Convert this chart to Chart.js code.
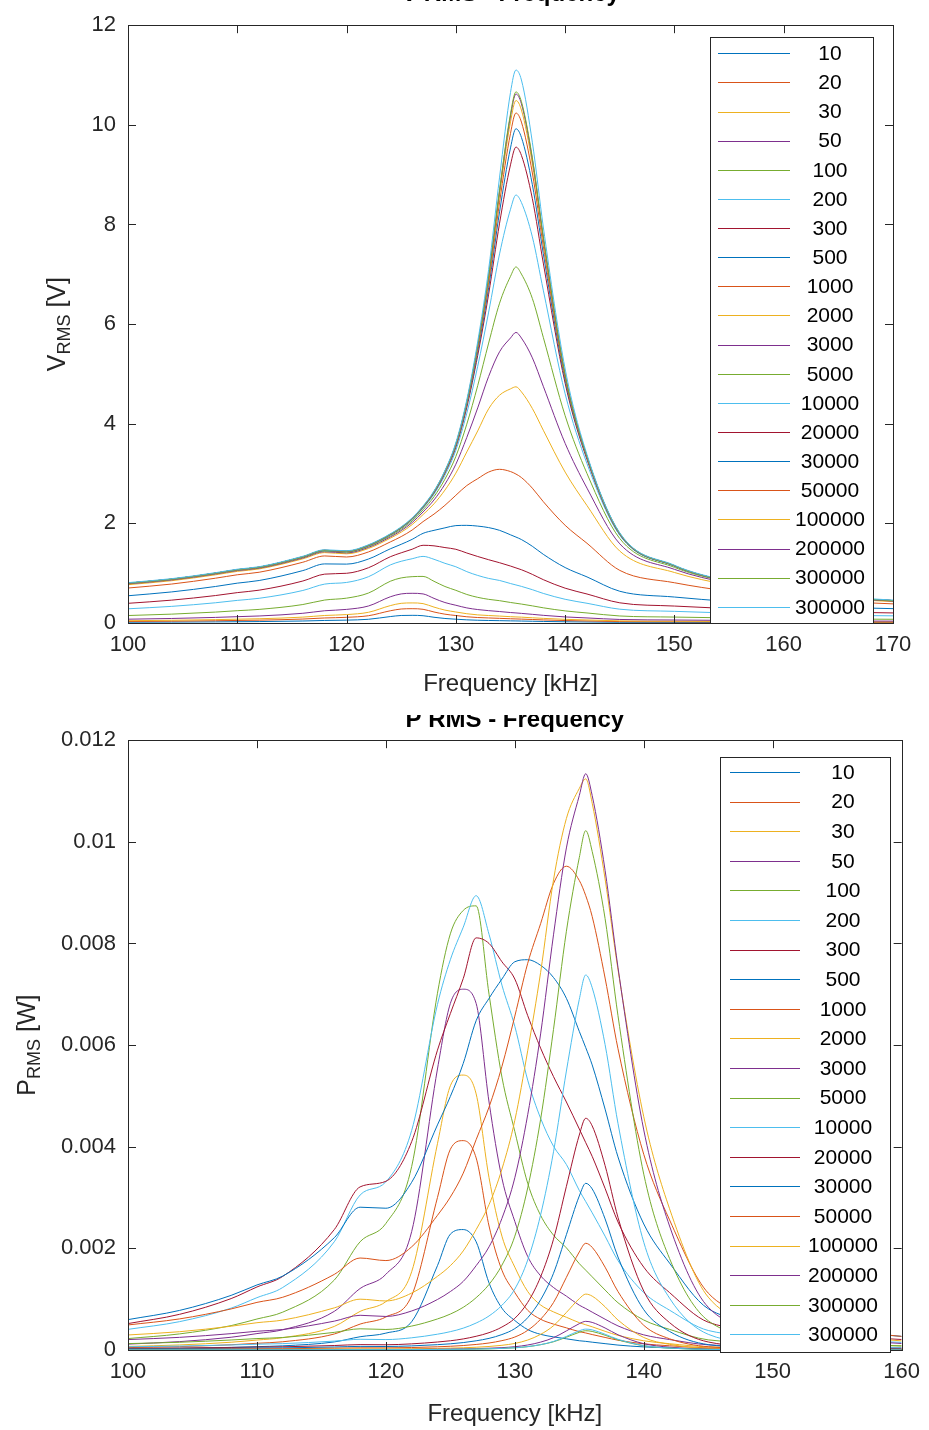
<!DOCTYPE html>
<html><head><meta charset="utf-8">
<script src="https://cdn.jsdelivr.net/npm/chart.js@4.4.0/dist/chart.umd.min.js"></script>
<style>
html,body{margin:0;padding:0;background:#fff;}
#wrap{position:relative;width:929px;height:1430px;overflow:hidden;background:#fff;}
#c1{position:absolute;left:0;top:0;}
#c2{position:absolute;left:0;top:715px;}
</style></head><body>
<div id="wrap"><canvas id="c2" width="929" height="715"></canvas><canvas id="c1" width="929" height="715"></canvas></div>
<script>
// ---------- data ----------
const freqV = [100,104,108,110,112,116,118,120,122,124,125,126,127,128,129,130,131,132,133,134,135,135.5,136,137,138,140,142,145,150,155,160,165,170];
const freqP = [100,104,108,110,112,116,118,120,122,124,125,126,127,128,129,130,131,132,133,134,135,135.5,136,137,138,140,142,145,150,155,160];
const loadLabels = ['10','20','30','50','100','200','300','500','1000','2000','3000','5000','10000','20000','30000','50000','100000','200000','300000','300000'];

const xTicksV = [100,110,120,130,140,150,160,170];
const xTickLabelsV = ['100','110','120','130','140','150','160','170'];
const yTicksV = [0,2,4,6,8,10,12];
const yTickLabelsV = ['0','2','4','6','8','10','12'];
const xTicksP = [100,110,120,130,140,150,160];
const xTickLabelsP = ['100','110','120','130','140','150','160'];
const yTicksP = [0,0.002,0.004,0.006,0.008,0.01,0.012];
const yTickLabelsP = ['0','0.002','0.004','0.006','0.008','0.01','0.012'];

// V_RMS [V]
const v10 = [0.0154,0.0183,0.0227,0.0257,0.0286,0.0399,0.0511,0.0576,0.0746,0.129,0.151,0.154,0.146,0.115,0.0907,0.0762,0.0634,0.0555,0.0508,0.0469,0.0427,0.0412,0.0392,0.0353,0.0311,0.0247,0.0204,0.0143,0.0121,0.0104,0.0091,0.0081,0.0076];
const v20 = [0.0307,0.0366,0.0453,0.0513,0.057,0.0794,0.101,0.114,0.146,0.245,0.281,0.287,0.275,0.221,0.177,0.150,0.125,0.110,0.101,0.0934,0.085,0.0818,0.078,0.0703,0.0621,0.0492,0.0408,0.0285,0.0241,0.0207,0.0183,0.0162,0.0152];
const v30 = [0.046,0.0547,0.0677,0.0767,0.0852,0.118,0.151,0.169,0.215,0.349,0.395,0.403,0.389,0.319,0.259,0.221,0.186,0.163,0.150,0.139,0.127,0.122,0.117,0.105,0.0929,0.0737,0.0611,0.0427,0.0362,0.031,0.0274,0.0243,0.0228];
const v50 = [0.0763,0.0908,0.112,0.127,0.141,0.195,0.246,0.273,0.341,0.526,0.584,0.596,0.584,0.494,0.411,0.356,0.303,0.270,0.248,0.230,0.210,0.202,0.193,0.174,0.154,0.122,0.1016,0.071,0.0601,0.0516,0.0455,0.0404,0.0379];
const v100 = [0.150,0.178,0.219,0.247,0.273,0.371,0.461,0.499,0.601,0.838,0.905,0.930,0.935,0.837,0.733,0.656,0.573,0.515,0.475,0.448,0.412,0.396,0.380,0.344,0.305,0.243,0.2016,0.141,0.119,0.102,0.0901,0.080,0.0749];
const v200 = [0.285,0.334,0.406,0.454,0.496,0.653,0.781,0.814,0.929,1.166,1.239,1.290,1.337,1.279,1.198,1.129,1.031,0.955,0.895,0.854,0.792,0.764,0.735,0.669,0.594,0.476,0.396,0.277,0.234,0.199,0.174,0.154,0.144];
const v300 = [0.395,0.459,0.551,0.610,0.659,0.843,0.981,0.998,1.109,1.330,1.409,1.481,1.560,1.549,1.514,1.480,1.405,1.335,1.270,1.210,1.143,1.106,1.069,0.976,0.870,0.699,0.582,0.405,0.340,0.288,0.249,0.219,0.202];
const v500 = [0.547,0.624,0.733,0.800,0.853,1.052,1.186,1.182,1.284,1.489,1.580,1.679,1.800,1.860,1.910,1.955,1.960,1.945,1.915,1.860,1.770,1.725,1.675,1.540,1.379,1.113,0.925,0.637,0.521,0.432,0.367,0.317,0.288];
const v1000 = [0.702,0.782,0.899,0.968,1.019,1.220,1.346,1.325,1.426,1.627,1.735,1.866,2.035,2.186,2.362,2.564,2.759,2.897,3.030,3.085,3.040,2.990,2.920,2.706,2.436,1.961,1.600,1.056,0.808,0.636,0.517,0.434,0.384];
const v2000 = [0.769,0.849,0.967,1.036,1.085,1.288,1.413,1.389,1.496,1.702,1.824,1.976,2.177,2.393,2.668,3.008,3.433,3.856,4.300,4.573,4.700,4.741,4.640,4.306,3.870,3.029,2.357,1.443,1.014,0.761,0.599,0.493,0.429];
const v3000 = [0.785,0.864,0.983,1.052,1.100,1.305,1.431,1.407,1.518,1.727,1.855,2.016,2.229,2.470,2.786,3.187,3.725,4.318,4.950,5.445,5.721,5.833,5.720,5.323,4.752,3.606,2.707,1.589,1.077,0.795,0.619,0.507,0.440];
const v5000 = [0.794,0.873,0.992,1.061,1.110,1.317,1.444,1.421,1.535,1.748,1.880,2.049,2.272,2.536,2.887,3.343,3.991,4.765,5.619,6.420,6.959,7.147,7.004,6.514,5.735,4.161,3.000,1.695,1.117,0.815,0.631,0.515,0.446];
const v10000 = [0.798,0.878,0.998,1.067,1.117,1.324,1.452,1.431,1.548,1.764,1.900,2.074,2.305,2.587,2.966,3.468,4.211,5.154,6.241,7.410,8.306,8.591,8.441,7.751,6.682,4.601,3.199,1.758,1.138,0.825,0.637,0.518,0.449];
const v20000 = [0.800,0.880,1.000,1.070,1.120,1.327,1.456,1.436,1.554,1.772,1.910,2.087,2.323,2.613,3.008,3.533,4.328,5.370,6.601,8.026,9.197,9.553,9.387,8.518,7.225,4.811,3.282,1.779,1.145,0.828,0.639,0.520,0.450];
const v30000 = [0.800,0.880,1.000,1.070,1.120,1.330,1.457,1.437,1.556,1.775,1.913,2.091,2.328,2.622,3.022,3.555,4.368,5.445,6.730,8.254,9.537,9.921,9.748,8.799,7.414,4.877,3.307,1.786,1.147,0.830,0.640,0.520,0.450];
const v50000 = [0.800,0.880,1.000,1.070,1.120,1.330,1.460,1.440,1.558,1.777,1.916,2.095,2.333,2.629,3.033,3.573,4.401,5.506,6.835,8.446,9.828,10.237,10.055,9.033,7.567,4.928,3.326,1.793,1.150,0.830,0.640,0.520,0.450];
const v100000 = [0.800,0.880,1.000,1.070,1.120,1.330,1.460,1.440,1.560,1.780,1.920,2.097,2.336,2.635,3.041,3.586,4.425,5.553,6.917,8.595,10.059,10.488,10.297,9.214,7.683,4.964,3.338,1.797,1.150,0.830,0.640,0.520,0.450];
const v200000 = [0.800,0.880,1.000,1.070,1.120,1.330,1.460,1.440,1.560,1.780,1.920,2.100,2.339,2.637,3.046,3.593,4.438,5.576,6.958,8.672,10.178,10.618,10.422,9.306,7.742,4.982,3.344,1.798,1.150,0.830,0.640,0.520,0.450];
const v300000a = [0.800,0.880,1.000,1.070,1.120,1.330,1.460,1.440,1.560,1.780,1.920,2.100,2.340,2.638,3.047,3.595,4.442,5.584,6.972,8.698,10.219,10.661,10.465,9.338,7.761,4.988,3.346,1.798,1.150,0.830,0.640,0.520,0.450];
const v300000b = [0.810,0.890,1.010,1.080,1.130,1.340,1.470,1.450,1.570,1.790,1.930,2.110,2.350,2.650,3.060,3.620,4.480,5.650,7.100,8.950,10.650,11.100,10.900,9.650,7.950,5.100,3.380,1.810,1.160,0.840,0.650,0.530,0.460];

// P_RMS [W]
const p10 = [0.0000237,0.0000335,0.0000515,0.000066,0.0000818,0.000159,0.000261,0.000332,0.000557,0.00166,0.00228,0.00237,0.00213,0.00132,0.000823,0.00058,0.000402,0.000308,0.000258,0.00022,0.000182,0.00017,0.000154,0.000125,0.0000967,0.000061,0.0000416,0.0000204,0.0000146,0.0000108,0.0000083];
const p20 = [0.0000471,0.000067,0.000103,0.000132,0.000162,0.000315,0.00051,0.00065,0.00107,0.0030,0.00395,0.00412,0.00378,0.00244,0.00157,0.00113,0.000781,0.000605,0.00051,0.000436,0.000361,0.000335,0.000304,0.000247,0.000193,0.000121,0.0000832,0.0000406,0.000029,0.0000214,0.0000167];
const p30 = [0.0000705,0.0000997,0.000153,0.000196,0.000242,0.000464,0.00076,0.000952,0.00154,0.00406,0.0052,0.00541,0.00504,0.00339,0.00224,0.00163,0.00115,0.000886,0.00075,0.000644,0.000538,0.000496,0.000456,0.000368,0.000288,0.000181,0.000124,0.0000608,0.0000437,0.000032,0.000025];
const p50 = [0.000116,0.000165,0.000251,0.000323,0.000398,0.000761,0.00121,0.00149,0.00233,0.00553,0.00682,0.0071,0.00682,0.00488,0.00338,0.00253,0.00184,0.00146,0.00123,0.00106,0.000882,0.000816,0.000745,0.000606,0.000474,0.000298,0.000206,0.000101,0.0000722,0.0000533,0.0000414];
const p100 = [0.000225,0.000317,0.00048,0.00061,0.000745,0.001376,0.00213,0.00249,0.00361,0.00702,0.00819,0.00865,0.00874,0.0070,0.00537,0.0043,0.00328,0.00265,0.00226,0.00201,0.0017,0.00157,0.00144,0.00118,0.00093,0.00059,0.000406,0.000199,0.000142,0.000104,0.0000812];
const p200 = [0.000406,0.000558,0.000824,0.00103,0.00123,0.00213,0.00305,0.00331,0.00432,0.0068,0.00768,0.00832,0.00894,0.00818,0.00718,0.00637,0.00531,0.00456,0.00401,0.00365,0.00314,0.00292,0.0027,0.00224,0.00176,0.00113,0.000784,0.000384,0.000274,0.000198,0.000151];
const p300 = [0.00052,0.000702,0.001012,0.00124,0.001448,0.00237,0.00321,0.00332,0.0041,0.0059,0.00662,0.00731,0.00811,0.0080,0.00764,0.0073,0.00658,0.00594,0.00538,0.00488,0.00435,0.00408,0.00381,0.00318,0.00252,0.00163,0.00113,0.000547,0.000385,0.000276,0.000207];
const p500 = [0.000598,0.000779,0.001075,0.00128,0.001455,0.00221,0.00281,0.00279,0.0033,0.00443,0.00499,0.00564,0.00648,0.00692,0.0073,0.00764,0.00768,0.00757,0.00733,0.00692,0.00627,0.00595,0.00561,0.00474,0.0038,0.00248,0.00171,0.000812,0.000543,0.000373,0.000269];
const p1000 = [0.000493,0.000612,0.000808,0.000937,0.001038,0.001488,0.00181,0.00176,0.00203,0.00265,0.00301,0.00348,0.00414,0.00478,0.00558,0.00657,0.00761,0.00839,0.00918,0.00952,0.00924,0.00894,0.00853,0.00732,0.00593,0.00385,0.00256,0.00112,0.000653,0.000404,0.000267];
const p2000 = [0.000296,0.00036,0.000468,0.000537,0.000589,0.000829,0.001,0.000965,0.00112,0.00145,0.00166,0.00195,0.00237,0.00286,0.00356,0.00452,0.00589,0.00743,0.00925,0.01046,0.01105,0.01124,0.01076,0.00927,0.00749,0.00459,0.00278,0.00104,0.000514,0.00029,0.000179];
const p3000 = [0.000205,0.000249,0.000322,0.000369,0.000403,0.000568,0.000683,0.00066,0.000768,0.000994,0.00115,0.00135,0.00166,0.00203,0.00259,0.00339,0.00463,0.00622,0.00817,0.00988,0.01091,0.01134,0.01091,0.00944,0.00753,0.00433,0.00244,0.000842,0.000387,0.000211,0.000128];
const p5000 = [0.000126,0.000152,0.000197,0.000225,0.000246,0.000347,0.000417,0.000404,0.000471,0.000611,0.000707,0.00084,0.00103,0.00129,0.00167,0.00224,0.00319,0.00454,0.00631,0.00824,0.00969,0.01022,0.00981,0.00849,0.00658,0.00346,0.0018,0.000575,0.00025,0.000133,0.0000796];
const p10000 = [0.0000637,0.0000771,0.0000996,0.000114,0.000125,0.000175,0.000211,0.000205,0.00024,0.000311,0.000361,0.00043,0.000531,0.00067,0.00088,0.0012,0.00177,0.00266,0.0039,0.00549,0.0069,0.00738,0.00713,0.00601,0.00446,0.00212,0.00102,0.000309,0.00013,0.0000681,0.0000406];
const p20000 = [0.000032,0.0000387,0.00005,0.0000572,0.0000627,0.000088,0.000106,0.000103,0.000121,0.000157,0.000182,0.000218,0.00027,0.000341,0.000452,0.000624,0.000937,0.00144,0.00218,0.00322,0.00423,0.00456,0.00441,0.00363,0.00261,0.00116,0.000539,0.000158,0.0000655,0.0000343,0.0000204];
const p30000 = [0.0000213,0.0000258,0.0000333,0.0000382,0.0000418,0.000059,0.0000708,0.0000688,0.0000807,0.000105,0.000122,0.000146,0.000181,0.000229,0.000304,0.000421,0.000636,0.000988,0.00151,0.00227,0.00303,0.00328,0.00317,0.00258,0.00183,0.000793,0.000365,0.000106,0.0000439,0.000023,0.0000137];
const p50000 = [0.0000128,0.0000155,0.00002,0.0000229,0.0000251,0.0000354,0.0000426,0.0000415,0.0000485,0.0000632,0.0000734,0.0000878,0.000109,0.000138,0.000184,0.000255,0.000387,0.000606,0.000934,0.00143,0.00193,0.0021,0.00202,0.00163,0.00115,0.000486,0.000221,0.0000643,0.0000265,0.0000138,0.0000082];
const p100000 = [0.0000064,0.0000077,0.00001,0.0000114,0.0000125,0.0000177,0.0000213,0.0000207,0.0000243,0.0000317,0.0000369,0.000044,0.0000546,0.0000694,0.0000925,0.000129,0.000196,0.000308,0.000478,0.000739,0.00101,0.0011,0.00106,0.00085,0.00059,0.000246,0.000111,0.0000323,0.0000132,0.0000069,0.0000041];
const p200000 = [0.0000032,0.0000039,0.000005,0.0000057,0.0000063,0.0000088,0.0000107,0.0000104,0.0000122,0.0000158,0.0000184,0.000022,0.0000274,0.0000348,0.0000464,0.0000646,0.0000985,0.000155,0.000242,0.000376,0.000518,0.000564,0.000543,0.000433,0.0003,0.000124,0.0000559,0.0000162,0.0000066,0.0000034,0.000002];
const p300000a = [0.0000021,0.0000026,0.0000033,0.0000038,0.0000042,0.0000059,0.0000071,0.0000069,0.0000081,0.0000106,0.0000123,0.0000147,0.0000183,0.0000232,0.0000309,0.0000431,0.0000658,0.000104,0.000162,0.000252,0.000348,0.000379,0.000365,0.000291,0.000201,0.0000829,0.0000373,0.0000108,0.0000044,0.0000023,0.0000014];
const p300000b = [0.0000022,0.0000026,0.0000034,0.0000039,0.0000043,0.000006,0.0000072,0.000007,0.0000082,0.0000107,0.0000124,0.0000148,0.0000184,0.0000234,0.0000312,0.0000437,0.0000669,0.000106,0.000168,0.000267,0.000378,0.000411,0.000396,0.00031,0.000211,0.0000867,0.0000381,0.0000109,0.0000045,0.0000024,0.0000014];

const seriesV = [v10,v20,v30,v50,v100,v200,v300,v500,v1000,v2000,v3000,v5000,v10000,v20000,v30000,v50000,v100000,v200000,v300000a,v300000b];
const seriesP = [p10,p20,p30,p50,p100,p200,p300,p500,p1000,p2000,p3000,p5000,p10000,p20000,p30000,p50000,p100000,p200000,p300000a,p300000b];

// ---------- styling ----------
const colors = ['#0072BD','#D95319','#EDB120','#7E2F8E','#77AC30','#4DBEEE','#A2142F'];
const FONT = "'Liberation Sans', Arial, Helvetica, sans-serif";
const AX = '#262626';

function drawRich(ctx, parts, cx, cy, rotate) {
  ctx.save();
  ctx.translate(cx, cy);
  if (rotate) ctx.rotate(-Math.PI / 2);
  let total = 0;
  parts.forEach(p => { ctx.font = (p.bold ? 'bold ' : '') + p.size + 'px ' + FONT; p.w = ctx.measureText(p.t).width; total += p.w; });
  let x = -total / 2;
  ctx.textBaseline = 'alphabetic';
  ctx.textAlign = 'left';
  parts.forEach(p => { ctx.font = (p.bold ? 'bold ' : '') + p.size + 'px ' + FONT; ctx.fillStyle = p.color || AX; ctx.fillText(p.t, x, p.dy); x += p.w; });
  ctx.restore();
}

const matlabPlugin = {
  id: 'matlab',
  afterDraw(chart) {
    const o = chart.options.plugins.matlab;
    const ctx = chart.ctx, a = chart.chartArea, xs = chart.scales.x, ys = chart.scales.y;
    ctx.save();
    ctx.strokeStyle = AX; ctx.lineWidth = 1;
    const tl = 8;
    ctx.beginPath();
    xs.ticks.forEach(t => {
      const px = Math.round(xs.getPixelForValue(t.value)) + 0.5;
      ctx.moveTo(px, a.bottom); ctx.lineTo(px, a.bottom - tl);
      ctx.moveTo(px, a.top); ctx.lineTo(px, a.top + tl);
    });
    ys.ticks.forEach(t => {
      const py = Math.round(ys.getPixelForValue(t.value)) + 0.5;
      ctx.moveTo(a.left, py); ctx.lineTo(a.left + tl, py);
      ctx.moveTo(a.right, py); ctx.lineTo(a.right - tl, py);
    });
    ctx.stroke();
    ctx.strokeRect(Math.round(a.left) + 0.5, Math.round(a.top) + 0.5, Math.round(a.right - a.left), Math.round(a.bottom - a.top));

    // legend
    const L = o.legend;
    ctx.fillStyle = '#fff';
    ctx.fillRect(L.x0, L.y0, L.x1 - L.x0, L.y1 - L.y0);
    ctx.strokeRect(L.x0 + 0.5, L.y0 + 0.5, L.x1 - L.x0, L.y1 - L.y0);
    ctx.font = L.size + 'px ' + FONT;
    ctx.textAlign = 'center'; ctx.textBaseline = 'middle';
    chart.data.datasets.forEach((ds, i) => {
      const yy = L.row0 + i * L.step;
      ctx.strokeStyle = ds.borderColor; ctx.lineWidth = 1;
      ctx.beginPath(); ctx.moveTo(L.l0, Math.round(yy) + 0.5); ctx.lineTo(L.l1, Math.round(yy) + 0.5); ctx.stroke();
      ctx.fillStyle = '#000';
      ctx.fillText(ds.label, L.tx, yy + 1);
    });

    // axis labels
    const cxp = (a.left + a.right) / 2, cyp = (a.top + a.bottom) / 2;
    drawRich(ctx, [{t: o.xlabel, size: 24, dy: 8}], cxp, a.bottom + o.xlabelDy, false);
    drawRich(ctx, [{t: o.ylabel[0], size: 25, dy: 8}, {t: o.ylabel[1], size: 18, dy: 13}, {t: o.ylabel[2], size: 25, dy: 8}], o.ylabelX, cyp, true);
    // title (partly cut off by the figure edge)
    drawRich(ctx, [{t: o.title, size: 24, bold: true, dy: 0, color: '#000'}], cxp, o.titleBase, false);
    ctx.restore();
  }
};

function makeChart(id, freq, series, c) {
  const datasets = series.map((arr, i) => ({
    label: loadLabels[i],
    data: arr.map((v, j) => ({x: freq[j], y: v})),
    borderColor: colors[i % 7],
    backgroundColor: colors[i % 7],
    borderWidth: 1,
    pointRadius: 0,
    fill: false,
    cubicInterpolationMode: 'monotone',
    order: series.length - 1 - i
  }));
  const tickFont = {family: FONT, size: 22};
  return new Chart(document.getElementById(id), {
    type: 'line',
    data: {datasets},
    options: {
      responsive: false, animation: false, devicePixelRatio: 1,
      layout: {padding: c.pad},
      plugins: {legend: {display: false}, tooltip: {enabled: false}, title: {display: false},
        matlab: c.matlab},
      scales: {
        x: {type: 'linear', min: c.xMin, max: c.xMax,
          grid: {display: false, drawTicks: false}, border: {display: false},
          afterBuildTicks: s => { s.ticks = c.xTicks.map(v => ({value: v})); },
          afterFit: s => { s.height = c.xAxisH; },
          ticks: {font: tickFont, color: AX, padding: 9, maxRotation: 0, autoSkip: false,
            callback: v => c.xTickLabels[c.xTicks.indexOf(v)]}},
        y: {type: 'linear', min: c.yMin, max: c.yMax,
          grid: {display: false, drawTicks: false}, border: {display: false},
          afterBuildTicks: s => { s.ticks = c.yTicks.map(v => ({value: v})); },
          afterFit: s => { s.width = c.yAxisW; },
          ticks: {font: tickFont, color: AX, padding: 12, autoSkip: false,
            callback: v => c.yTickLabels[c.yTicks.indexOf(v)]}}
      }
    },
    plugins: [matlabPlugin]
  });
}

makeChart('c1', freqV, seriesV, {
  xMin: 100, xMax: 170, yMin: 0, yMax: 12,
  xTicks: xTicksV, xTickLabels: xTickLabelsV, yTicks: yTicksV, yTickLabels: yTickLabelsV,
  pad: {left: 0, right: 36, top: 18, bottom: 0}, xAxisH: 92, yAxisW: 128,
  matlab: {
    legend: {x0: 710, y0: 37, x1: 873, y1: 623, row0: 53.3, step: 29.13, l0: 718, l1: 790, tx: 830, size: 21},
    xlabel: 'Frequency [kHz]', xlabelDy: 60, ylabel: ['V', 'RMS', ' [V]'], ylabelX: 57,
    title: 'V RMS - Frequency', titleBase: 1
  }
});

makeChart('c2', freqP, seriesP, {
  xMin: 100, xMax: 160, yMin: 0, yMax: 0.012,
  xTicks: xTicksP, xTickLabels: xTickLabelsP, yTicks: yTicksP, yTickLabels: yTickLabelsP,
  pad: {left: 0, right: 23, top: 22, bottom: 0}, xAxisH: 80, yAxisW: 128,
  matlab: {
    legend: {x0: 720, y0: 42, x1: 890, y1: 637, row0: 57, step: 29.6, l0: 730, l1: 800, tx: 843, size: 21},
    xlabel: 'Frequency [kHz]', xlabelDy: 63, ylabel: ['P', 'RMS', ' [W]'], ylabelX: 27,
    title: 'P RMS - Frequency', titleBase: 12
  }
});
</script>
</body></html>
